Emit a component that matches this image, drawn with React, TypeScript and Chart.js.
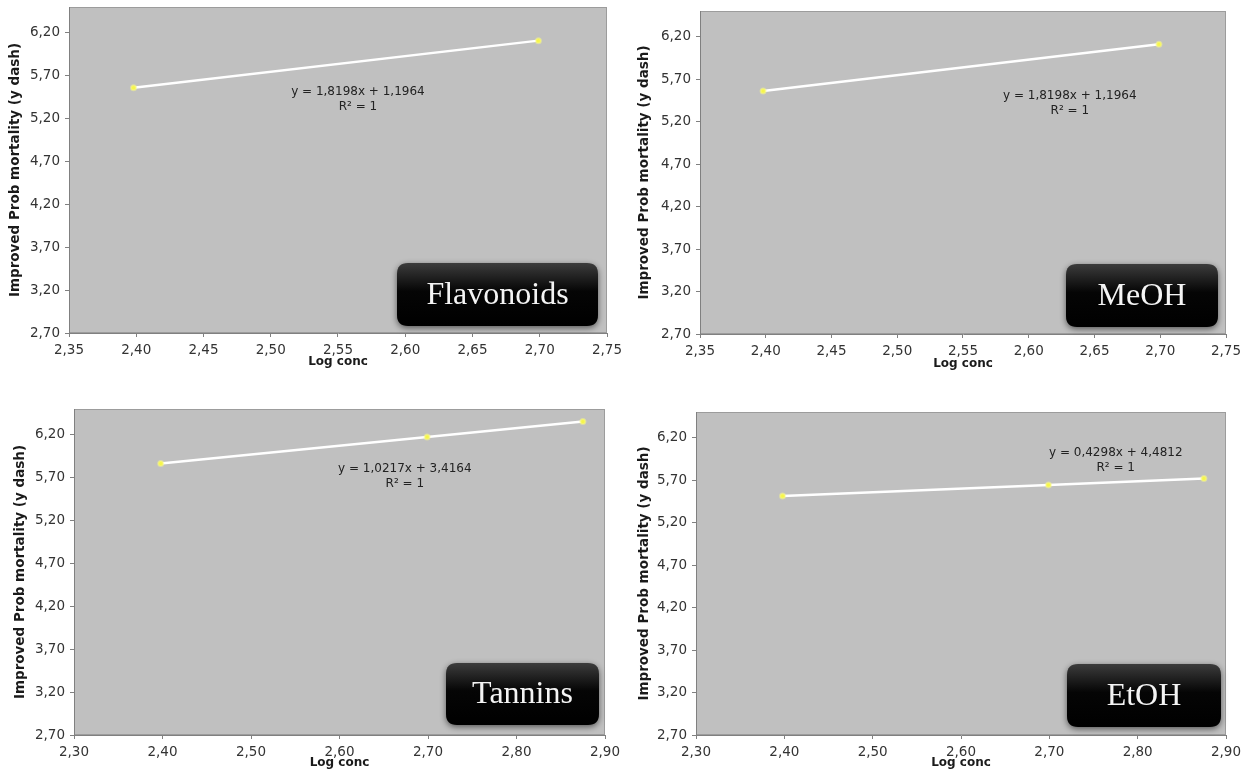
import React, { useEffect, useRef } from "react";
import { Chart, registerables } from "chart.js";

Chart.register(...registerables);

// ---- data ----
const logConcTwo = [2.398, 2.699];
const logConcThree = [2.398, 2.699, 2.875];
const flavonoidsY = [5.56, 6.108];
const meohY = [5.56, 6.108];
const tanninsY = [5.866, 6.174, 6.354];
const etohY = [5.512, 5.641, 5.717];
const yTicks = [2.7, 3.2, 3.7, 4.2, 4.7, 5.2, 5.7, 6.2];
const xTicksTop = [2.35, 2.4, 2.45, 2.5, 2.55, 2.6, 2.65, 2.7, 2.75];
const xTicksBottom = [2.3, 2.4, 2.5, 2.6, 2.7, 2.8, 2.9];
const panelNames = ["Flavonoids", "MeOH", "Tannins", "EtOH"];
const equations = [
  "y = 1,8198x + 1,1964",
  "y = 1,8198x + 1,1964",
  "y = 1,0217x + 3,4164",
  "y = 0,4298x + 4,4812",
];
const rSquared = "R² = 1";
const yTitle = "Improved Prob mortality (y dash)";
const xTitle = "Log conc";

// ---- layout (pixels on the page) ----
type Panel = {
  left: number; top: number; width: number; height: number;
  plotL: number; plotT: number; plotR: number; plotB: number;
  yTitlePad: number; xTitlePad: number;
  eqFx: number; eqFy: number;
  boxW: number; boxH: number; boxRight: number; boxBottom: number;
  xMin: number; xMax: number; xTicks: number[];
  xs: number[]; ys: number[]; name: string; eq: string;
};

const panels: Panel[] = [
  {
    left: 0, top: 0, width: 628, height: 380,
    plotL: 69, plotT: 7, plotR: 607, plotB: 333,
    yTitlePad: 8, xTitlePad: 11,
    eqFx: 0.537, eqFy: 0.261,
    boxW: 201, boxH: 63, boxRight: 9, boxBottom: 7,
    xMin: 2.35, xMax: 2.75, xTicks: xTicksTop,
    xs: logConcTwo, ys: flavonoidsY, name: panelNames[0], eq: equations[0],
  },
  {
    left: 628, top: 0, width: 628, height: 380,
    plotL: 700, plotT: 11, plotR: 1226, plotB: 334,
    yTitlePad: 9, xTitlePad: 9,
    eqFx: 0.703, eqFy: 0.263,
    boxW: 152, boxH: 63, boxRight: 8, boxBottom: 7,
    xMin: 2.35, xMax: 2.75, xTicks: xTicksTop,
    xs: logConcTwo, ys: meohY, name: panelNames[1], eq: equations[1],
  },
  {
    left: 0, top: 380, width: 628, height: 396,
    plotL: 74, plotT: 409, plotR: 605, plotB: 735,
    yTitlePad: 13, xTitlePad: 6,
    eqFx: 0.623, eqFy: 0.184,
    boxW: 153, boxH: 62, boxRight: 6, boxBottom: 10,
    xMin: 2.3, xMax: 2.9, xTicks: xTicksBottom,
    xs: logConcThree, ys: tanninsY, name: panelNames[2], eq: equations[2],
  },
  {
    left: 628, top: 380, width: 628, height: 396,
    plotL: 696, plotT: 412, plotR: 1226, plotB: 735,
    yTitlePad: 9, xTitlePad: 6,
    eqFx: 0.792, eqFy: 0.127,
    boxW: 154, boxH: 63, boxRight: 5, boxBottom: 8,
    xMin: 2.3, xMax: 2.9, xTicks: xTicksBottom,
    xs: logConcThree, ys: etohY, name: panelNames[3], eq: equations[3],
  },
];

const fmt = (v: number) => v.toFixed(2).replace(".", ",");

function roundRectPath(ctx: CanvasRenderingContext2D, x: number, y: number, w: number, h: number, r: number) {
  ctx.beginPath();
  ctx.moveTo(x + r, y);
  ctx.lineTo(x + w - r, y);
  ctx.quadraticCurveTo(x + w, y, x + w, y + r);
  ctx.lineTo(x + w, y + h - r);
  ctx.quadraticCurveTo(x + w, y + h, x + w - r, y + h);
  ctx.lineTo(x + r, y + h);
  ctx.quadraticCurveTo(x, y + h, x, y + h - r);
  ctx.lineTo(x, y + r);
  ctx.quadraticCurveTo(x, y, x + r, y);
  ctx.closePath();
}

function makeDecor(p: Panel) {
  return {
    id: "decor",
    beforeDraw(chart: any) {
      const { ctx, chartArea: a } = chart;
      ctx.save();
      ctx.fillStyle = "#c0c0c0";
      ctx.fillRect(a.left, a.top, a.right - a.left, a.bottom - a.top);
      ctx.strokeStyle = "#9c9c9c";
      ctx.lineWidth = 1;
      ctx.strokeRect(a.left + 0.5, a.top + 0.5, a.right - a.left - 1, a.bottom - a.top - 1);
      ctx.restore();
    },
    afterDraw(chart: any) {
      const { ctx, chartArea: a } = chart;
      ctx.save();
      // equation
      const ex = a.left + p.eqFx * (a.right - a.left);
      const ey = a.top + p.eqFy * (a.bottom - a.top);
      ctx.fillStyle = "#222222";
      ctx.font = "12px 'DejaVu Sans'";
      ctx.textAlign = "center";
      ctx.textBaseline = "middle";
      ctx.fillText(p.eq, ex, ey);
      ctx.fillText(rSquared, ex, ey + 15);
      // label box
      const bx = a.right - p.boxRight - p.boxW;
      const by = a.bottom - p.boxBottom - p.boxH;
      ctx.save();
      ctx.shadowColor = "rgba(0,0,0,0.55)";
      ctx.shadowBlur = 6;
      ctx.shadowOffsetY = 2;
      const g = ctx.createLinearGradient(0, by, 0, by + p.boxH);
      g.addColorStop(0, "#3c3c3c");
      g.addColorStop(0.45, "#050505");
      g.addColorStop(1, "#000000");
      ctx.fillStyle = g;
      roundRectPath(ctx, bx, by, p.boxW, p.boxH, 11);
      ctx.fill();
      ctx.restore();
      ctx.fillStyle = "#f4f4f4";
      ctx.font = "32px 'Liberation Serif'";
      ctx.textAlign = "center";
      ctx.textBaseline = "middle";
      ctx.fillText(p.name, bx + p.boxW / 2, by + p.boxH / 2 + 1);
      ctx.restore();
    },
  };
}

function PanelChart({ p }: { p: Panel }) {
  const ref = useRef<HTMLCanvasElement | null>(null);
  useEffect(() => {
    if (!ref.current) return;
    const points = p.xs.map((x, i) => ({ x, y: p.ys[i] }));
    const yWidth = p.plotL - p.left;
    const xHeight = p.top + p.height - p.plotB;
    const chart = new Chart(ref.current, {
      type: "scatter",
      data: {
        datasets: [
          {
            data: points,
            showLine: true,
            borderColor: "#ffffff",
            borderWidth: 2.5,
            pointRadius: 2.5,
            pointBackgroundColor: "#f6f64a",
            pointBorderColor: "rgba(250,250,140,0.5)",
            pointBorderWidth: 2,
          },
        ],
      },
      options: {
        responsive: false,
        animation: false,
        events: [],
        layout: {
          padding: {
            left: 0,
            bottom: 0,
            top: p.plotT - p.top,
            right: p.left + p.width - p.plotR,
          },
        },
        plugins: { legend: { display: false }, tooltip: { enabled: false } },
        scales: {
          x: {
            type: "linear",
            min: p.xMin,
            max: p.xMax,
            afterBuildTicks: (s: any) => {
              s.ticks = p.xTicks.map((v) => ({ value: v }));
            },
            afterFit: (s: any) => {
              s.height = xHeight;
              s.paddingLeft = 0;
              s.paddingRight = 0;
            },
            grid: { drawOnChartArea: false, drawTicks: true, tickLength: 4, color: "#808080" },
            border: { display: true, color: "#808080", width: 1 },
            ticks: {
              autoSkip: false,
              maxRotation: 0,
              padding: 5,
              color: "#333333",
              font: { family: "'DejaVu Sans'", size: 13.5 },
              callback: (v: any) => fmt(Number(v)),
            },
            title: {
              display: true,
              text: xTitle,
              color: "#1a1a1a",
              font: { family: "'DejaVu Sans'", size: 12, weight: "bold" },
              padding: { top: 0, bottom: p.xTitlePad },
            },
          },
          y: {
            type: "linear",
            min: 2.7,
            max: 6.5,
            afterBuildTicks: (s: any) => {
              s.ticks = yTicks.map((v) => ({ value: v }));
            },
            afterFit: (s: any) => {
              s.width = yWidth;
              s.paddingTop = 0;
              s.paddingBottom = 0;
            },
            grid: { drawOnChartArea: false, drawTicks: true, tickLength: 4, color: "#808080" },
            border: { display: true, color: "#808080", width: 1 },
            ticks: {
              autoSkip: false,
              padding: 5,
              color: "#333333",
              font: { family: "'DejaVu Sans'", size: 13.5 },
              callback: (v: any) => fmt(Number(v)),
            },
            title: {
              display: true,
              text: yTitle,
              color: "#1a1a1a",
              font: { family: "'DejaVu Sans'", size: 13.5, weight: "bold" },
              padding: { top: p.yTitlePad - 1, bottom: 0 },
            },
          },
        },
      } as any,
      plugins: [makeDecor(p) as any],
    });
    return () => chart.destroy();
  }, [p]);
  return (
    <canvas
      ref={ref}
      width={p.width}
      height={p.height}
      style={{ position: "absolute", left: p.left, top: p.top, display: "block" }}
    />
  );
}

export default function App() {
  return (
    <div
      style={{
        position: "absolute",
        left: 0,
        top: 0,
        width: 1256,
        height: 776,
        background: "#ffffff",
        overflow: "hidden",
      }}
    >
      {panels.map((p, i) => (
        <PanelChart key={i} p={p} />
      ))}
    </div>
  );
}
